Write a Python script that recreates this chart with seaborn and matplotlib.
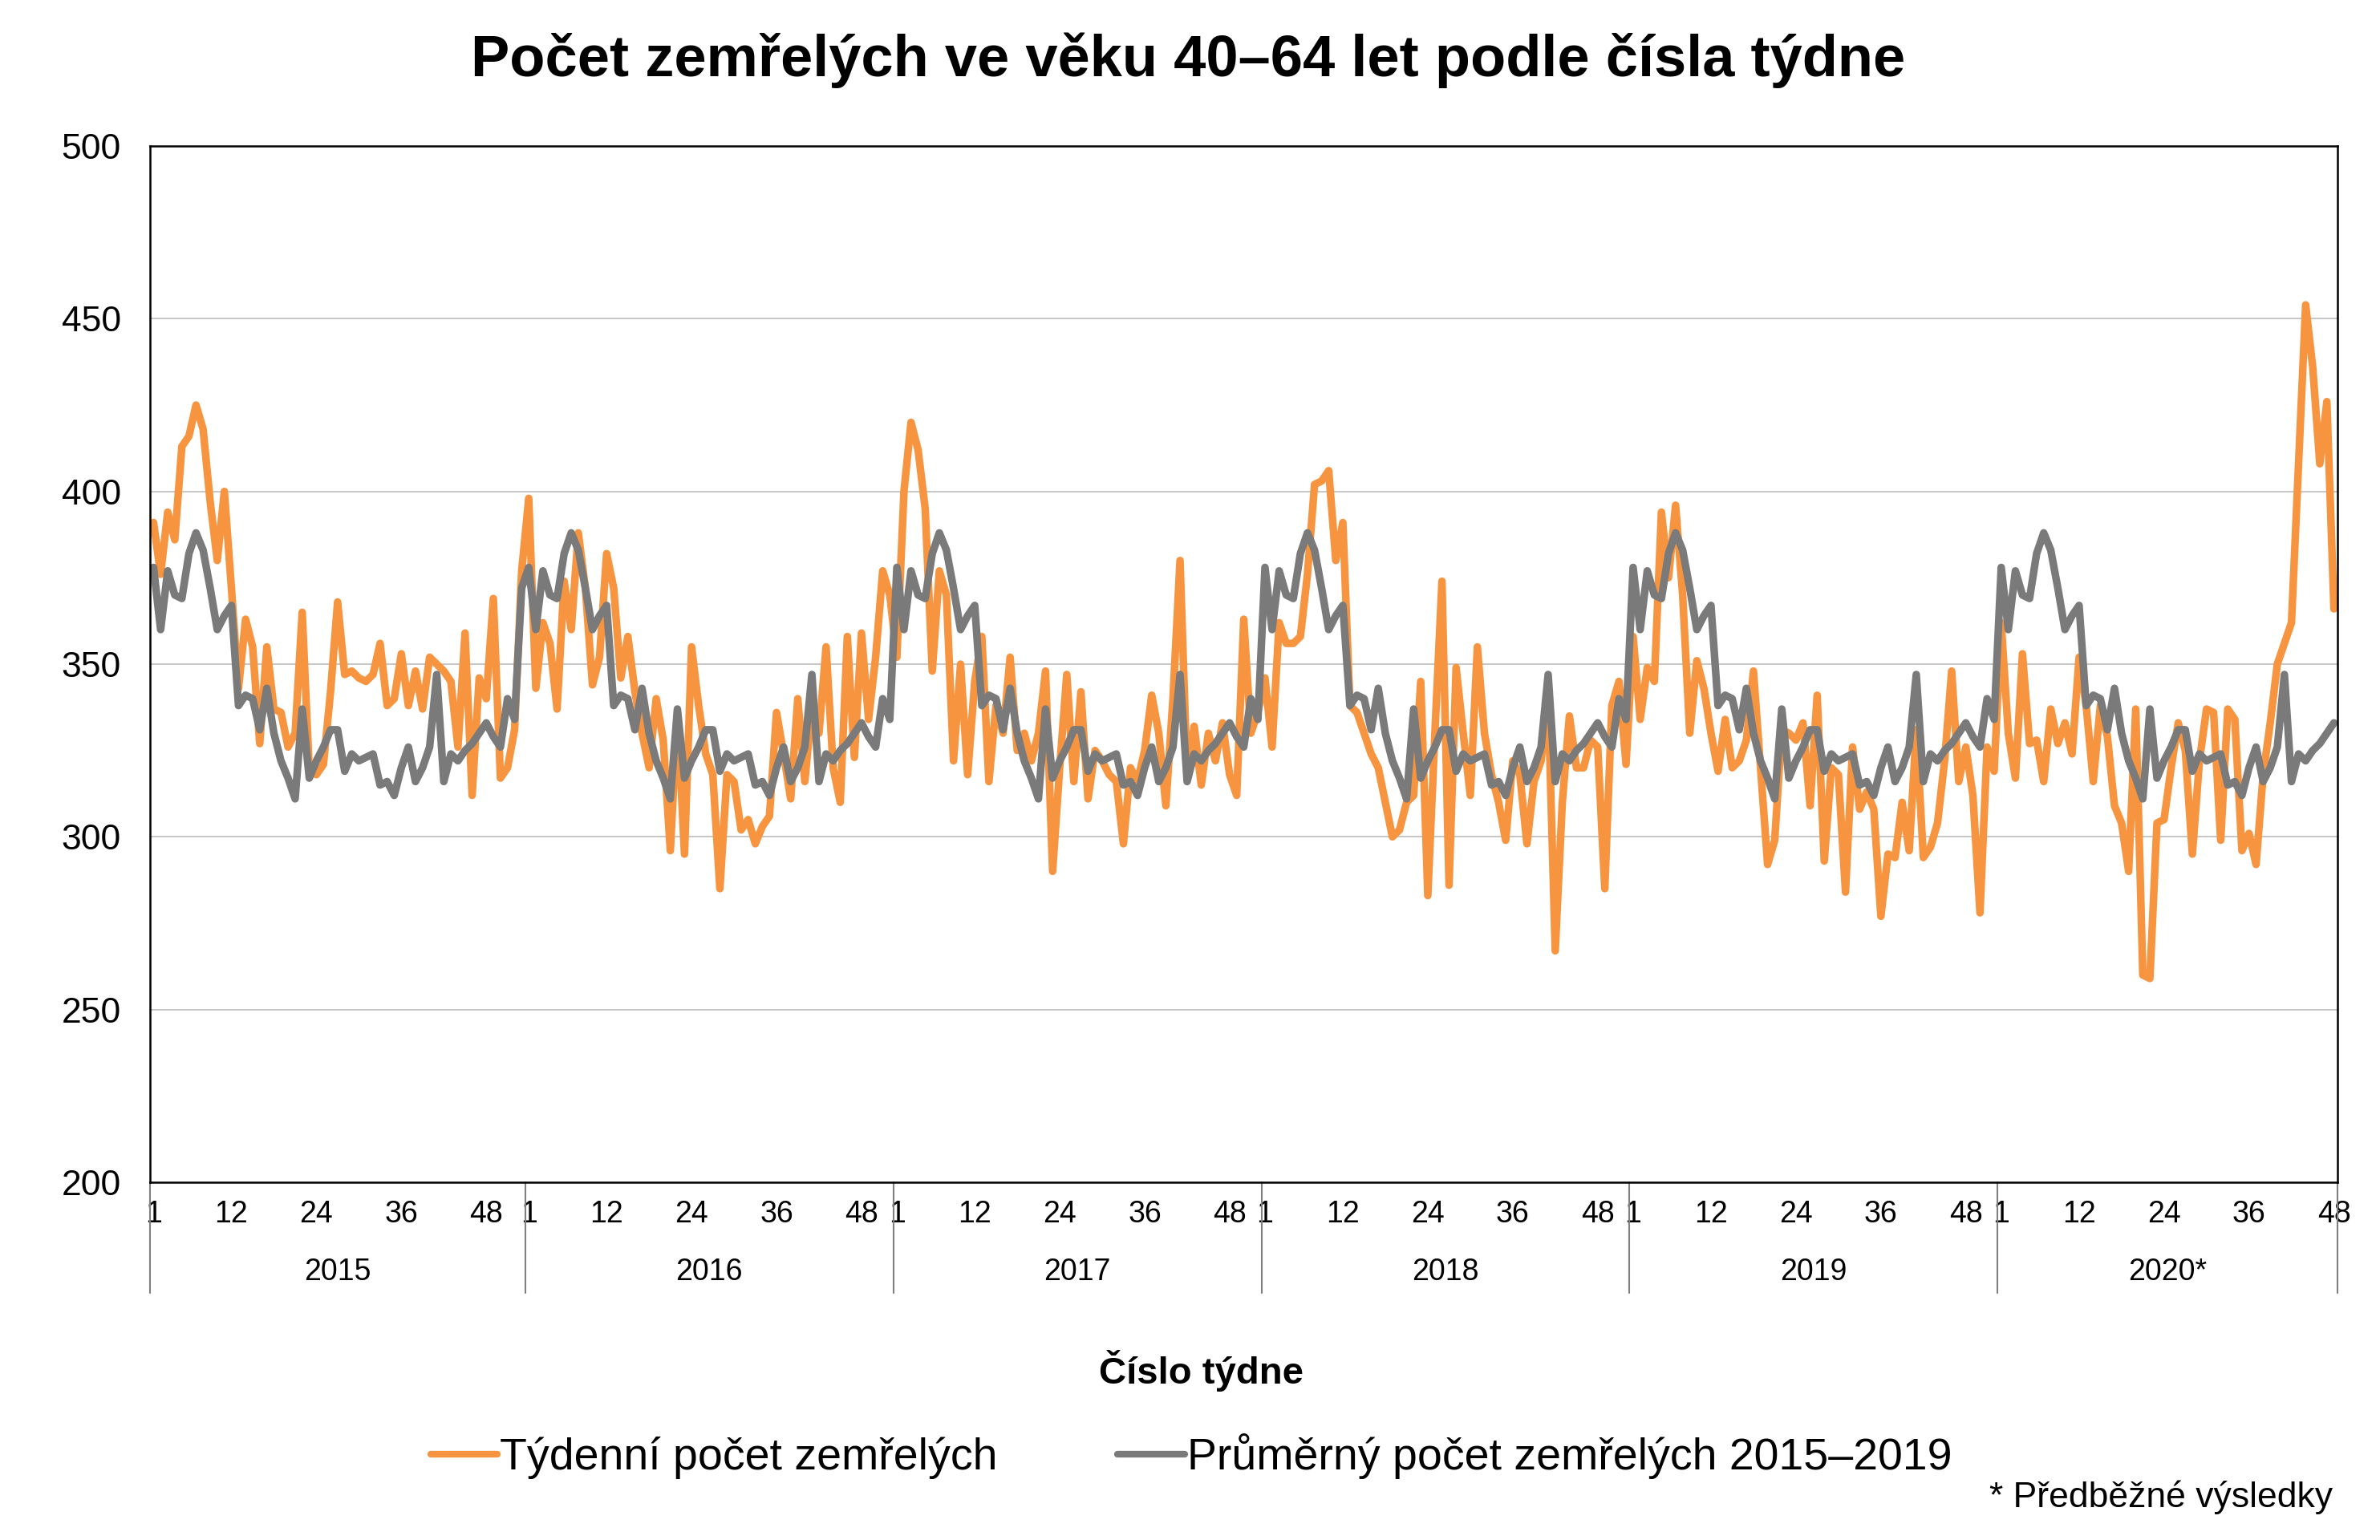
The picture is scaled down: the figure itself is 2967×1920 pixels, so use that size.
import numpy as np
import pandas as pd
import matplotlib
matplotlib.use("Agg")
import matplotlib.pyplot as plt
import matplotlib.transforms as mtransforms
import seaborn as sns

# ---------------- data ----------------
year_labels = ["2015", "2016", "2017", "2018", "2019", "2020*"]

deaths_2015 = [391, 376, 394, 386, 413, 416, 425, 418, 397, 380,
               400, 372, 343, 363, 355, 327, 355, 337, 336, 326,
               330, 365, 319, 318, 321, 342, 368, 347, 348, 346,
               345, 347, 356, 338, 340, 353, 338, 348, 337, 352,
               350, 348, 345, 326, 359, 312, 346, 340, 369, 317,
               320, 331, 377]
deaths_2016 = [398, 343, 362, 356, 337, 374, 360, 388, 372, 344,
               352, 382, 372, 346, 358, 342, 330, 320, 340, 328,
               296, 336, 295, 355, 338, 324, 318, 285, 318, 316,
               302, 305, 298, 303, 306, 336, 324, 311, 340, 316,
               338, 330, 355, 320, 310, 358, 323, 359, 334, 352,
               377, 370]
deaths_2017 = [352, 400, 420, 412, 395, 348, 377, 370, 322, 350,
               318, 345, 358, 316, 338, 330, 352, 325, 330, 322,
               330, 348, 290, 320, 347, 316, 342, 311, 325, 322,
               318, 316, 298, 320, 316, 325, 341, 330, 309, 340,
               380, 318, 332, 315, 330, 322, 333, 318, 312, 363,
               330, 336]
deaths_2018 = [346, 326, 362, 356, 356, 358, 376, 402, 403, 406,
               380, 391, 338, 336, 330, 324, 320, 310, 300, 302,
               310, 312, 345, 283, 330, 374, 286, 349, 330, 312,
               355, 330, 318, 310, 299, 322, 318, 298, 316, 322,
               340, 267, 310, 335, 320, 320, 328, 326, 285, 338,
               345, 321]
deaths_2019 = [358, 334, 349, 345, 394, 375, 396, 370, 330, 351,
               343, 330, 319, 334, 320, 322, 328, 348, 320, 292,
               299, 331, 330, 328, 333, 309, 341, 293, 320, 318,
               284, 326, 308, 313, 308, 277, 295, 294, 310, 296,
               331, 294, 297, 304, 322, 348, 316, 326, 312, 278,
               326, 319]
deaths_2020 = [362, 330, 317, 353, 327, 328, 316, 337, 327, 333,
               324, 352, 338, 316, 338, 329, 309, 304, 290, 337,
               260, 259, 304, 305, 320, 333, 325, 295, 322, 337,
               336, 299, 337, 334, 296, 301, 292, 318, 333, 350,
               356, 362, 408, 454, 436, 408, 426, 366]

avg_2015_2019 = [378, 360, 377, 370, 369, 382, 388, 383, 372, 360,
                 364, 367, 338, 341, 340, 331, 343, 330, 322, 317,
                 311, 337, 317, 322, 326, 331, 331, 319, 324, 322,
                 323, 324, 315, 316, 312, 320, 326, 316, 320, 326,
                 347, 316, 324, 322, 325, 327, 330, 333, 329, 326,
                 340, 334, 372]

tick_weeks = [1, 12, 24, 36, 48]
series_names = ["Týdenní počet zemřelých", "Průměrný počet zemřelých 2015–2019"]
title = "Počet zemřelých ve věku 40–64 let podle čísla týdne"
x_title = "Číslo týdne"
footnote = "* Předběžné výsledky"

# ---------------- table ----------------
yearly = [deaths_2015, deaths_2016, deaths_2017, deaths_2018, deaths_2019, deaths_2020]
rows = []
year_starts = []
pos = 0
for lab, vals in zip(year_labels, yearly):
    year_starts.append(pos)
    for w, v in enumerate(vals):
        rows.append({"pos": pos + w, "value": v, "series": series_names[0]})
        rows.append({"pos": pos + w, "value": avg_2015_2019[w], "series": series_names[1]})
    pos += len(vals)
n_total = pos
df = pd.DataFrame(rows)

# ---------------- style ----------------
sns.set_theme(style="white")
plt.rcParams["font.family"] = ["Liberation Sans", "DejaVu Sans"]
plt.rcParams["text.color"] = "black"

W, H = 2967, 1920
fig = plt.figure(figsize=(W / 100, H / 100), dpi=100)
ax_l, ax_r, ax_t, ax_b = 187, 2914, 182, 1474
ax = fig.add_axes([ax_l / W, 1 - ax_b / H, (ax_r - ax_l) / W, (ax_b - ax_t) / H])

orange = "#F79440"
gray = "#7A7A7A"
sns.lineplot(data=df, x="pos", y="value", hue="series", hue_order=series_names,
             palette=[orange, gray], linewidth=6.8, errorbar=None, sort=False,
             ax=ax)

ax.set_xlim(-0.5, n_total - 0.5)
ax.set_ylim(200, 500)
ax.set_yticks(np.arange(200, 501, 50))
ax.yaxis.grid(True, color="#C6C6C6", linewidth=1.4)
ax.set_axisbelow(True)
for s in ax.spines.values():
    s.set_visible(True)
    s.set_color("black")
    s.set_linewidth(1.8)

xt, xl = [], []
for start, vals in zip(year_starts, yearly):
    for w in tick_weeks:
        if w <= len(vals):
            xt.append(start + w - 1)
            xl.append(str(w))
ax.set_xticks(xt)
ax.set_xticklabels(xl)
ax.tick_params(axis="x", length=0, pad=16, labelsize=27, colors="black")
ax.tick_params(axis="y", length=0, pad=26, labelsize=32, colors="black")
ax.set_xlabel("")
ax.set_ylabel("")

# year labels and separators under the axis
trans = mtransforms.blended_transform_factory(ax.transData, ax.transAxes)
axh = ax_b - ax_t
for lab, start, vals in zip(year_labels, year_starts, yearly):
    ax.text(start + (len(vals) - 1) / 2, -112 / axh, lab, transform=trans,
            ha="center", va="center", fontsize=27, color="black")
bounds = year_starts + [n_total]
for b in bounds:
    ax.plot([b - 0.5, b - 0.5], [0, -138 / axh], transform=trans, color="#808080",
            linewidth=1.5, clip_on=False)

# legend
sns.move_legend(ax, "center", bbox_to_anchor=((1485 - ax_l) / (ax_r - ax_l), (ax_b - 1816) / axh),
                ncol=2, title=None, frameon=False, fontsize=40, handlelength=1.5,
                handletextpad=0.05, columnspacing=2.7)
for line in ax.get_legend().get_lines():
    line.set_linewidth(6)
for t in ax.get_legend().get_texts():
    t.set_color("black")

fig.text(1481 / W, 1 - 95 / H, title, ha="center", va="baseline",
         fontsize=52, fontweight="bold", color="black")
fig.text(1498 / W, 1 - 1725 / H, x_title, ha="center", va="baseline",
         fontsize=34, fontweight="bold", color="black")
fig.text(2908 / W, 1 - 1879 / H, footnote, ha="right", va="baseline", fontsize=32,
         color="black")

fig.savefig("out.png", dpi=100, facecolor="white")
